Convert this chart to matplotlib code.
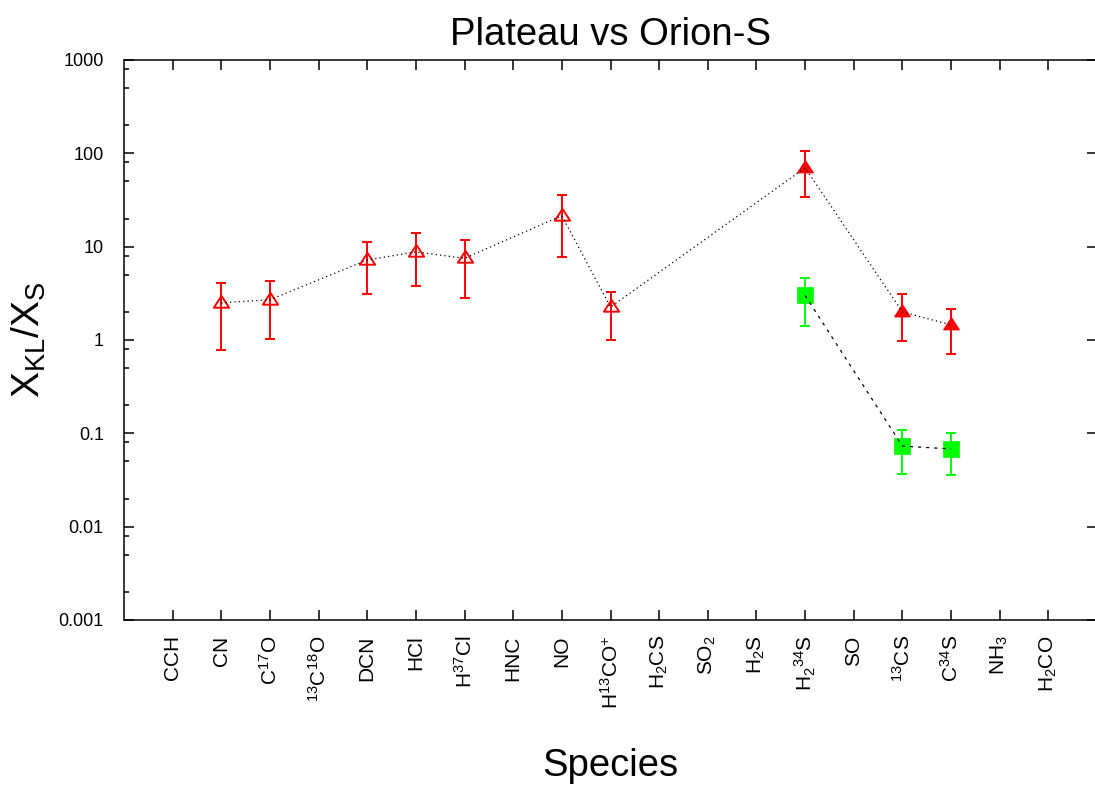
#!/usr/bin/env python3
# -*- coding: utf-8 -*-

import numpy as np
import matplotlib
matplotlib.use('Agg')
import matplotlib.pyplot as plt
from matplotlib.ticker import FixedLocator, LogLocator, NullFormatter, FuncFormatter

### Data ###

SPECIES = ['CCH', 'CN', r'C$^{17}$O', r'$^{13}$C$^{18}$O', 'DCN', 'HCl',
           r'H$^{37}$Cl', 'HNC', 'NO', r'H$^{13}$CO$^{+}$', r'H$_2$CS',
           r'SO$_2$', r'H$_2$S', r'H$_2$$^{34}$S', 'SO', r'$^{13}$CS',
           r'C$^{34}$S', r'NH$_3$', r'H$_2$CO']

# red, open triangles (positions are 1-based species index)
open_idx = [2, 3, 5, 6, 7, 9, 10]
open_val = [2.5, 2.7, 7.2, 8.8, 7.5, 21.5, 2.25]
open_lo = [0.78, 1.03, 3.08, 3.8, 2.84, 7.8, 1.0]
open_hi = [4.1, 4.3, 11.3, 13.9, 11.7, 35.5, 3.27]

# red, filled triangles
fill_idx = [14, 16, 17]
fill_val = [70.0, 2.0, 1.45]
fill_lo = [34.3, 0.97, 0.71]
fill_hi = [107.0, 3.08, 2.15]

# green squares
sq_idx = [14, 16, 17]
sq_val = [3.0, 0.073, 0.068]
sq_lo = [1.43, 0.037, 0.036]
sq_hi = [4.6, 0.109, 0.102]

RED = '#ff0000'
GREEN = '#00ff00'

plt.rcParams['font.family'] = ['Liberation Sans', 'DejaVu Sans']
plt.rcParams['mathtext.fontset'] = 'custom'
plt.rcParams['mathtext.rm'] = 'Liberation Sans'
plt.rcParams['mathtext.it'] = 'Liberation Sans:italic'
plt.rcParams['mathtext.default'] = 'regular'


def err(val, lo, hi):
  val = np.array(val)
  return [val - np.array(lo), np.array(hi) - val]


# gnuplot-like triangle, centre near the centroid
tri = [(0, 1.0), (-1, -0.55), (1, -0.55), (0, 1.0)]

fig = plt.figure(figsize=(10.95, 7.93), dpi=100)
ax = fig.add_axes([124 / 1095, 1 - 620 / 793, (1097 - 124) / 1095, 560 / 793])

ax.errorbar(open_idx, open_val, yerr=err(open_val, open_lo, open_hi), fmt='none',
            ecolor=RED, elinewidth=1.4, capsize=3.5, capthick=1.4, zorder=2)
ax.errorbar(fill_idx, fill_val, yerr=err(fill_val, fill_lo, fill_hi), fmt='none',
            ecolor=RED, elinewidth=1.4, capsize=3.5, capthick=1.4, zorder=2)
ax.errorbar(sq_idx, sq_val, yerr=err(sq_val, sq_lo, sq_hi), fmt='none',
            ecolor=GREEN, elinewidth=1.4, capsize=3.5, capthick=1.4, zorder=2)

ax.plot(open_idx, open_val, linestyle='none', marker=tri, ms=11,
        mfc='none', mec=RED, mew=1.4, zorder=3)
ax.plot(fill_idx, fill_val, linestyle='none', marker=tri, ms=11,
        mfc=RED, mec=RED, mew=1.0, zorder=3)
ax.plot(sq_idx, sq_val, linestyle='none', marker='s', ms=11,
        mfc=GREEN, mec=GREEN, mew=0.5, zorder=3)

# connecting lines on top of the points
ax.plot(open_idx + fill_idx, open_val + fill_val, color='black', lw=0.9,
        linestyle=(0, (1, 2.5)), zorder=4)
ax.plot(sq_idx, sq_val, color='black', lw=0.9, linestyle=(0, (2.5, 4)), zorder=4)

ax.set_yscale('log')
ax.set_ylim(0.001, 1000)
ax.set_xlim(0, 20)

ax.xaxis.set_major_locator(FixedLocator(np.arange(1, len(SPECIES) + 1)))
ax.set_xticklabels(SPECIES, rotation=90, va='top', ha='center')
ax.yaxis.set_major_locator(LogLocator(base=10, numticks=10))
ax.yaxis.set_minor_locator(LogLocator(base=10, subs=(2.0, 5.0, 8.0), numticks=10))
ax.yaxis.set_minor_formatter(NullFormatter())
ax.yaxis.set_major_formatter(FuncFormatter(lambda v, p: '%g' % v))

ax.tick_params(axis='both', which='major', direction='in', length=7, width=1.1,
               top=True, right=True)
ax.tick_params(axis='y', which='minor', direction='in', length=3.6, width=1.1,
               left=True, right=False)
ax.tick_params(axis='x', which='minor', bottom=False, top=False)
ax.tick_params(axis='y', labelsize=13, pad=14.5)
ax.tick_params(axis='x', labelsize=15, pad=11)

for s in ax.spines.values():
  s.set_linewidth(1.1)
ax.spines['right'].set_visible(False)

ax.set_title('Plateau vs Orion-S', fontsize=27.5, pad=11)
ax.set_ylabel(r'X$_{KL}$/X$_{S}$', fontsize=28)
ax.yaxis.set_label_coords(-0.078, 0.5)
ax.set_xlabel('Species', fontsize=27.5)
ax.xaxis.set_label_coords(0.5, -0.228)
ax.xaxis.label.set_va('top')

fig.savefig('out.png', dpi=100)
